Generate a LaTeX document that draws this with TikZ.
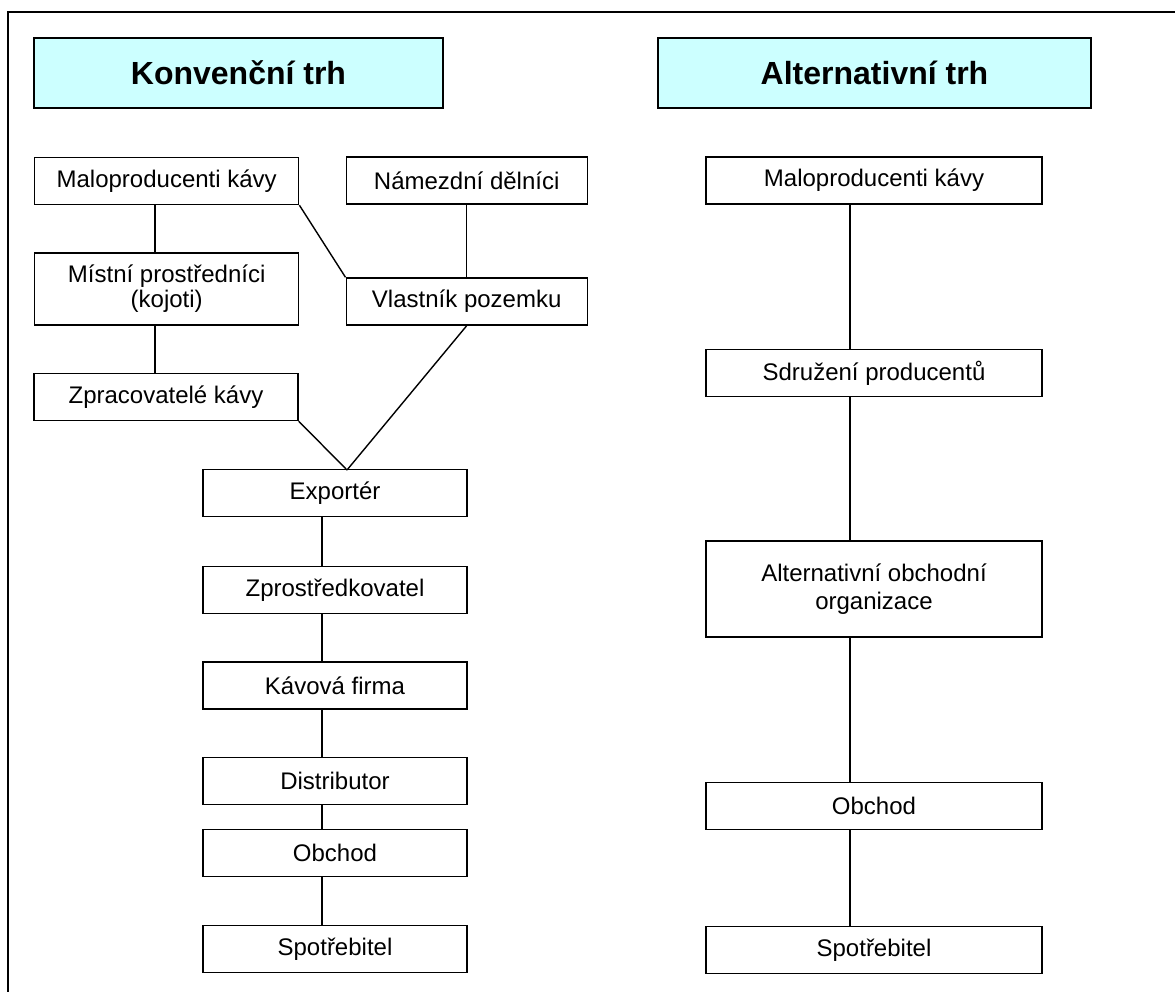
\documentclass[tikz,border=0pt]{standalone}
\usepackage{fontspec}
\setmainfont{Liberation Sans}
\definecolor{headcyan}{HTML}{CCFFFF}
\begin{document}
\begin{tikzpicture}[x=0.5pt, y=-0.5pt,
        head/.style={rectangle, draw, line width=0.9pt, fill=headcyan, inner sep=0pt, minimum height=35pt, font=\fontsize{16}{19}\selectfont\bfseries},
        box/.style={rectangle, draw, line width=0.7pt, inner sep=0pt, align=center, minimum height=23.5pt, font=\fontsize{12}{14}\selectfont},
        link/.style={line width=0.7pt}
    ]
    \useasboundingbox (0,0) rectangle (1175,992);
    \draw[line width=1.2pt] (8,992) -- (8,12) -- (1175,12);

    \node[head, minimum width=204.5pt] (konv) at (238.5,73) {Konvenční trh};
    \node[head, minimum width=216.5pt] (alt) at (874.5,73) {Alternativní trh};

    \node[box, minimum width=132pt] (malL) at (166.7,181) {Maloproducenti kávy};
    \node[box, minimum width=120.5pt] (nam) at (466.7,180.5) {Námezdní dělníci};
    \node[box, minimum width=132pt, minimum height=36pt, font=\fontsize{12}{12.5}\selectfont] (mist) at (166.7,289) {Místní prostředníci\\(kojoti)};
    \node[box, minimum width=120.5pt] (vlast) at (466.7,301.5) {Vlastník pozemku};
    \node[box, minimum width=132pt] (zprac) at (166,397) {Zpracovatelé kávy};
    \node[box, minimum width=132pt] (exp) at (335,493) {Exportér};
    \node[box, minimum width=132pt] (zpros) at (335,590) {Zprostředkovatel};
    \node[box, minimum width=132pt] (kav) at (335,685.5) {Kávová firma};
    \node[box, minimum width=132pt] (dist) at (335,781) {Distributor};
    \node[box, minimum width=132pt] (obchL) at (335,853) {Obchod};
    \node[box, minimum width=132pt] (spotL) at (335,949) {Spotřebitel};

    \node[box, minimum width=168pt] (malR) at (874,180.5) {Maloproducenti kávy};
    \node[box, minimum width=168pt] (sdr) at (874,373) {Sdružení producentů};
    \node[box, minimum width=168pt, minimum height=48pt] (aoo) at (874,589) {Alternativní obchodní\\organizace};
    \node[box, minimum width=168pt] (obchR) at (874,806) {Obchod};
    \node[box, minimum width=168pt] (spotR) at (874,950) {Spotřebitel};

    \coordinate (colA) at (155,0);
    \coordinate (colB) at (322,0);
    \coordinate (colC) at (850,0);
    \coordinate (apex) at (347,470);

    \draw[link] (malL.south -| colA) -- (mist.north -| colA);
    \draw[link] (mist.south -| colA) -- (zprac.north -| colA);
    \draw[link] (malL.south east) -- (vlast.north west);
    \draw[link] (nam.south) -- (vlast.north);
    \draw[link] (zprac.south east) -- (apex);
    \draw[link] (vlast.south) -- (apex);
    \foreach \a/\b in {exp/zpros, zpros/kav, kav/dist, dist/obchL, obchL/spotL}
        \draw[link] (\a.south -| colB) -- (\b.north -| colB);
    \foreach \a/\b in {malR/sdr, sdr/aoo, aoo/obchR, obchR/spotR}
        \draw[link] (\a.south -| colC) -- (\b.north -| colC);
\end{tikzpicture}
\end{document}
